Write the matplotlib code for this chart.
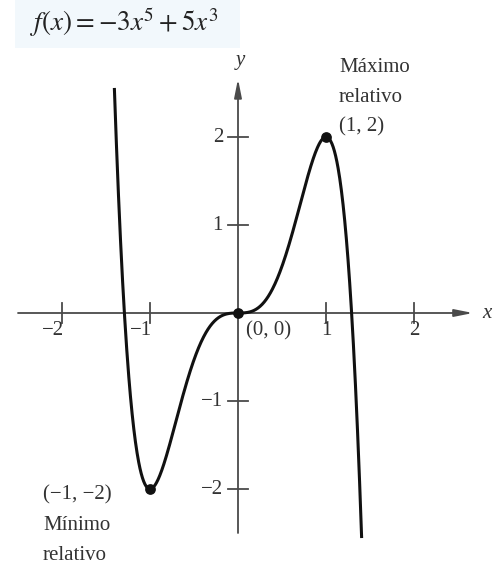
import numpy as np
import matplotlib
matplotlib.use("Agg")
import matplotlib.pyplot as plt
from matplotlib.patches import Rectangle

# ---- data ----
coefficients = [-3, 0, 5, 0, 0, 0]          # f(x) = -3x^5 + 5x^3
x_domain = [-1.405, 1.405]
x_ticks = [-2, -1, 1, 2]
x_tick_labels = ["\u22122", "\u22121", "1", "2"]
y_ticks = [-2, -1, 1, 2]
y_tick_labels = ["\u22122", "\u22121", "1", "2"]
extrema_x = [-1, 0, 1]
extrema_y = [-2, 0, 2]
title_text = r"$f(x) = -3x^5 + 5x^3$"

plt.rcParams['font.family'] = ['Liberation Serif', 'DejaVu Serif']
plt.rcParams['mathtext.fontset'] = 'stix'

W, H = 500, 569
fig = plt.figure(figsize=(W / 100, H / 100), dpi=100)
ax = fig.add_axes([0, 0, 1, 1])
s = 88.0
ox, oy = 238.0, 313.0
ax.set_xlim(-ox / s, (W - ox) / s)
ax.set_ylim((oy - H) / s, oy / s)
ax.axis('off')

def px(x, y):
    return ((x - ox) / s, (oy - y) / s)

axis_col = '#4a4a4a'
# faint blue scan tint behind the title
x0, y0 = px(15, 48)
ax.add_patch(Rectangle((x0, y0), 225 / s, 48 / s, color='#f2f8fc', zorder=0, lw=0))

# axes with arrows
ax.annotate('', xy=(2.67, 0), xytext=(-2.5, 0),
            arrowprops=dict(arrowstyle='-|>,head_length=1.1,head_width=0.22',
                            color=axis_col, lw=1.3, shrinkA=0, shrinkB=0))
ax.annotate('', xy=(0, 2.66), xytext=(0, -2.5),
            arrowprops=dict(arrowstyle='-|>,head_length=1.1,head_width=0.22',
                            color=axis_col, lw=1.3, shrinkA=0, shrinkB=0))

tl = 10 / s
for t in x_ticks:
    ax.plot([t, t], [-tl, tl], color=axis_col, lw=1.3)
for t in y_ticks:
    ax.plot([-tl, tl], [t, t], color=axis_col, lw=1.3)

fs = 15
tcol = '#333333'
for t, lab in zip(x_ticks, x_tick_labels):
    off = -0.1 if t == -1 else 0.0
    if t == -2:
        off = -0.1
    ax.text(t + off, -0.2, lab, ha='center', va='center', fontsize=fs, color=tcol)
for t, lab in zip(y_ticks, y_tick_labels):
    ax.text(-0.17, t, lab, ha='right', va='center', fontsize=fs, color=tcol)

ax.text(*px(487, 313), 'x', fontsize=fs, style='italic', ha='center', va='center', color=tcol)
ax.text(*px(240, 61), 'y', fontsize=fs, style='italic', ha='center', va='center', color=tcol)

# curve
xs = np.linspace(x_domain[0], x_domain[1], 600)
ys = np.polyval(coefficients, xs)
ax.plot(xs, ys, color='#111111', lw=2.2, solid_capstyle='butt', zorder=3)
ax.scatter(extrema_x, extrema_y, s=45, color='#111111', zorder=4)

# annotations
ax.text(*px(339, 68), 'Máximo', fontsize=fs, ha='left', va='center', color=tcol)
ax.text(*px(339, 98), 'relativo', fontsize=fs, ha='left', va='center', color=tcol)
ax.text(*px(339, 127), '(1, 2)', fontsize=fs, ha='left', va='center', color=tcol)
ax.text(*px(246, 331), '(0, 0)', fontsize=fs, ha='left', va='center', color=tcol)
ax.text(*px(43, 495), '(\u22121, \u22122)', fontsize=fs, ha='left', va='center', color=tcol)
ax.text(*px(43, 526), 'Mínimo', fontsize=fs, ha='left', va='center', color=tcol)
ax.text(*px(43, 556), 'relativo', fontsize=fs, ha='left', va='center', color=tcol)

ax.text(*px(30, 22), title_text, fontsize=19.5, ha='left', va='center', color='#222222')

fig.savefig('out.png', dpi=100)
